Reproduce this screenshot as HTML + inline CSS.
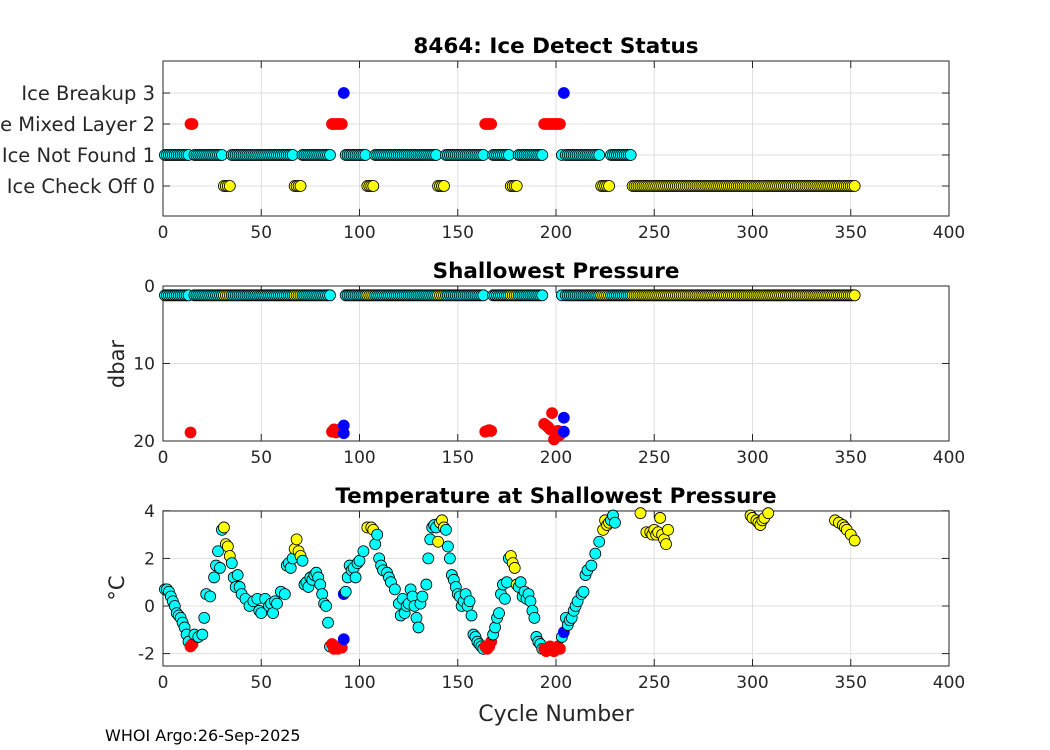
<!DOCTYPE html>
<html><head><meta charset="utf-8"><style>
body{margin:0;background:#fff}
svg{display:block;font-family:"DejaVu Sans","Liberation Sans",sans-serif}
</style></head><body>
<svg id="c" width="1050" height="750"></svg>
<script>
// Ice detect status per cycle (cycle 1..352)
const statusRuns = [[1,13,1],[14,15,2],[16,30,1],[31,34,0],[35,66,1],[67,70,0],[71,85,1],[86,91,2],[92,92,3],[93,103,1],[104,107,0],[108,139,1],[140,143,0],[144,163,1],[164,167,2],[168,176,1],[177,180,0],[181,193,1],[194,202,2],[203,203,1],[204,204,3],[205,222,1],[223,227,0],[228,238,1],[239,352,0]];
const shallowP = 1.2;
const pressureExceptions = [[14,18.9],[86,18.8],[87,18.5],[88,18.9],[89,18.6],[90,18.7],[91,18.4],[92,18.0],[92,19.0],[164,18.8],[165,18.7],[166,18.6],[167,18.7],[194,17.8],[195,18.0],[196,18.2],[197,18.5],[198,16.4],[199,19.8],[200,19.5],[201,18.7],[202,19.2],[204,17.0],[204,18.8]];
const tempCycles = [1,2,3,4,5,6,7,8,9,10,11,12,13,14,15,16,18,20,21,22,24,26,27,28,29,30,31,32,33,34,35,36,37,38,39,40,42,44,46,48,49,50,52,54,55,56,57,58,60,62,63,64,65,66,67,68,69,70,71,72,73,74,75,76,77,78,79,80,81,82,83,84,85,86,87,88,89,90,91,92,92,93,94,95,96,97,98,99,100,102,104,106,107,108,109,110,111,112,114,115,116,118,120,121,122,123,124,125,126,127,128,129,130,131,132,134,135,136,137,138,139,140,141,142,143,144,145,146,147,148,149,150,151,152,153,154,155,156,157,158,159,160,161,162,163,164,165,166,167,168,169,170,171,172,173,174,175,176,177,178,179,180,181,182,183,184,185,186,187,188,189,190,191,192,193,194,195,196,197,198,199,200,201,202,203,204,205,206,207,208,209,210,211,213,214,215,216,218,220,222,224,225,226,227,228,229,230,243,246,248,249,250,251,252,253,254,255,256,257,299,300,302,303,304,305,306,308,342,344,346,347,348,350,352];
const tempValues = [0.7,0.7,0.6,0.4,0.2,0,-0.3,-0.4,-0.5,-0.7,-0.9,-1.2,-1.5,-1.7,-1.6,-1.2,-1.3,-1.2,-0.5,0.5,0.4,1.2,1.7,2.3,1.6,3.2,3.3,2.6,2.5,2.1,1.8,1.2,0.8,1.3,0.8,0.5,0.3,0,0.2,0.3,-0.2,-0.3,0.3,0,0.1,-0.3,0.2,0.1,0.6,0.5,1.7,1.8,1.6,2.0,2.4,2.8,2.3,2.1,1.9,0.9,1.0,0.8,1.2,1.1,1.3,1.4,1.2,0.9,0.5,0.1,0,-0.7,-1.7,-1.6,-1.8,-1.7,-1.8,-1.7,-1.75,0.5,-1.4,0.6,1.2,1.7,1.5,1.6,1.2,1.8,1.9,2.3,3.3,3.3,3.2,2.6,3.0,2.0,1.7,1.5,1.4,1.2,1.0,0.7,0.1,-0.4,0.3,-0.3,0,0.1,0.7,0.4,0,-0.5,-0.9,0.1,0.4,0.9,2.0,2.8,3.3,3.4,3.3,2.7,3.5,3.6,3.3,3.2,2.5,2.0,1.3,1.1,0.8,0.5,0.4,0,0.2,0.5,0,0.2,-0.4,-1.2,-1.3,-1.5,-1.6,-1.7,-1.8,-1.7,-1.8,-1.7,-1.5,-1.2,-0.9,-0.5,-0.3,0.5,0.9,0.3,1.0,2.0,2.1,1.8,1.6,0.9,0.8,1.0,0.4,0.6,0.3,0.5,0.2,-0.2,-0.5,-1.3,-1.5,-1.6,-1.8,-1.8,-1.9,-1.8,-1.7,-1.8,-1.9,-1.8,-1.7,-1.8,-1.3,-1.1,-0.5,-0.8,-0.6,-0.5,-0.2,0,0.2,0.5,0.6,1.3,1.5,1.7,2.2,2.7,3.2,3.6,3.4,3.5,3.6,3.8,3.5,3.9,3.1,3.1,3.0,3.2,3.0,3.1,3.7,3.0,2.8,2.6,3.2,3.8,3.7,3.6,3.5,3.4,3.6,3.7,3.9,3.6,3.5,3.4,3.3,3.2,3.0,2.75];
const xTicks = [0,50,100,150,200,250,300,350,400];
const statusTicks = [0,1,2,3];
const statusLabels = ["Ice Check Off 0","Ice Not Found 1","Ice Mixed Layer 2","Ice Breakup 3"];
const presTicks = [0,10,20];
const tempTicks = [-2,0,2,4];
const colors = ["#ffff00","#00ffff","#ff0000","#0000ff"];

const svg = document.getElementById('c');
const NS = 'http://www.w3.org/2000/svg';
function mk(tag, at, parent){const e=document.createElementNS(NS,tag);for(const k in at)e.setAttribute(k,at[k]);(parent||svg).appendChild(e);return e;}
const X0=163,X1=949;
const sx = v => X0 + (v/400)*(X1-X0);
const statusOf = {};
statusRuns.forEach(r=>{for(let c=r[0];c<=r[1];c++)statusOf[c]=r[2];});

function axes(name, top, bot, yScale, yTicks, yLabels, title){
  const g = mk('g',{});
  
  
  mk('rect',{x:X0,y:top,width:X1-X0,height:bot-top,fill:'#fff'},g);
  xTicks.forEach(t=>{
    mk('line',{x1:sx(t),x2:sx(t),y1:top,y2:bot,stroke:'#dfdfdf','stroke-width':1},g);
    mk('line',{x1:sx(t),x2:sx(t),y1:bot,y2:bot-7,stroke:'#262626'},g);
    mk('line',{x1:sx(t),x2:sx(t),y1:top,y2:top+7,stroke:'#262626'},g);
    const tx=mk('text',{x:sx(t),y:bot+22,'text-anchor':'middle','font-size':17,fill:'#262626'},g);tx.textContent=t;
    
    
  });
  yTicks.forEach((t,i)=>{
    const y=yScale(t);
    mk('line',{x1:X0,x2:X1,y1:y,y2:y,stroke:'#dfdfdf','stroke-width':1},g);
    mk('line',{x1:X0,x2:X0+7,y1:y,y2:y,stroke:'#262626'},g);
    mk('line',{x1:X1,x2:X1-7,y1:y,y2:y,stroke:'#262626'},g);
    const fs = yLabels?19.5:17;
    const tx=mk('text',{x:X0-8,y:y+fs*0.36,'text-anchor':'end','font-size':fs,fill:'#262626'},g);tx.textContent=yLabels?yLabels[i]:t;
    
    
  });
  mk('rect',{x:X0,y:top,width:X1-X0,height:bot-top,fill:'none',stroke:'#262626','stroke-width':1},g);
  const tt=mk('text',{x:(X0+X1)/2,y:top-8,'text-anchor':'middle','font-size':21.5,'font-weight':'bold',fill:'#000'},g);tt.textContent=title;
  
  
  return g;
}
function dot(g,x,y,col){
  const c=mk('circle',{cx:x,cy:y,r:5.5,fill:col,stroke:col=="#ffff00"||col=="#00ffff"?'#000':col,'stroke-width':0.8},g);
  
  
}

// Panel 1
const s1 = v => 186 - v*31;
const g1 = axes('ice-status-panel',61,216,s1,statusTicks,statusLabels,'8464: Ice Detect Status');
for(let c=1;c<=352;c++) dot(g1,sx(c),s1(statusOf[c]),colors[statusOf[c]]);

// Panel 2
const s2 = v => 286 + v*(155/20);
const g2 = axes('pressure-panel',286,441,s2,presTicks,null,'Shallowest Pressure');
for(let c=1;c<=352;c++){const s=statusOf[c]; if(s<=1) dot(g2,sx(c),s2(shallowP),colors[s]);}
pressureExceptions.forEach(p=>dot(g2,sx(p[0]),s2(p[1]),colors[statusOf[p[0]]]));

// Panel 3
const s3 = v => 606 - v*23.8;
const g3 = axes('temperature-panel',511,666,s3,tempTicks,null,'Temperature at Shallowest Pressure');
tempCycles.forEach((c,i)=>dot(g3,sx(c),s3(tempValues[i]),colors[statusOf[c]]));

function label(txt,at,name){const t=mk('text',at);t.textContent=txt;}
label('dbar',{x:124,y:364,'text-anchor':'middle','font-size':21,fill:'#262626',transform:'rotate(-90 124 364)'},'y-axis-title-pressure');
label('°C',{x:124,y:588,'text-anchor':'middle','font-size':21,fill:'#262626',transform:'rotate(-90 124 588)'},'y-axis-title-temperature');
label('Cycle Number',{x:556,y:721,'text-anchor':'middle','font-size':22,fill:'#262626'},'x-axis-title');
label('WHOI Argo:26-Sep-2025',{x:105,y:741,'font-size':16,fill:'#000'},'footer-credit');
</script>
</body></html>
